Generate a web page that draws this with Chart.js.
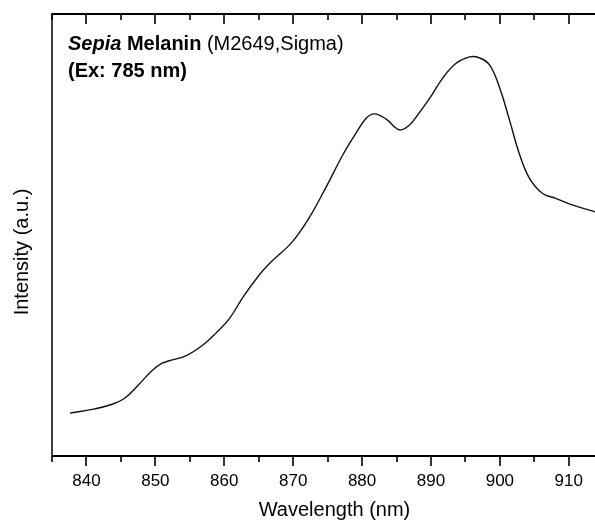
<!DOCTYPE html>
<html>
<head>
<meta charset="utf-8">
<script src="https://cdn.jsdelivr.net/npm/chart.js@4/dist/chart.umd.min.js"></script>
<style>
html,body{margin:0;padding:0;overflow:hidden;background:#fff;}
</style>
</head>
<body>
<canvas id="myChart" width="625" height="521"></canvas>
<script>
// spectrum
var wavelength=[837.6,841.0,843.5,845.5,847.5,849.5,851.0,852.6,854.5,856.9,858.8,860.8,862.7,865.1,866.6,869.9,872.4,874.8,877.2,879.1,880.6,881.8,883.5,885.0,885.7,886.9,888.0,889.8,891.7,893.6,895.6,897.0,898.5,899.9,901.4,902.8,904.3,906.2,908.1,910.5,913.7,916.0];
var intensity=[9.7,10.6,11.6,13.0,16.0,19.3,21.0,21.8,22.7,25.1,27.8,31.2,35.9,41.0,43.6,48.5,54.1,60.9,68.1,73.0,76.4,77.4,76.2,74.1,73.8,74.9,77.0,80.9,85.5,88.8,90.3,90.1,88.5,83.6,76.0,68.5,62.8,59.4,58.3,56.8,55.3,54.2];

var xTicks=[840,850,860,870,880,890,900,910];
var xMinorTicks=[835,845,855,865,875,885,895,905,915];

var font="'Liberation Sans', Arial, sans-serif";

var points=[];
for(var i=0;i<wavelength.length;i++){
  points.push({x:wavelength[i],y:intensity[i]});
}

// frame, tick marks, y title and the label in the corner
var framePlugin={
  id:"frame",
  afterDraw:function(chart){
    var ctx=chart.ctx;
    var a=chart.chartArea;
    var xs=chart.scales.x;
    ctx.save();
    ctx.strokeStyle="#000";
    ctx.lineWidth=2;
    ctx.beginPath();
    ctx.moveTo(a.left,a.top);ctx.lineTo(a.right,a.top);
    ctx.moveTo(a.left,a.bottom);ctx.lineTo(a.right,a.bottom);
    ctx.moveTo(a.right,a.top);ctx.lineTo(a.right,a.bottom);
    ctx.stroke();
    ctx.lineWidth=1.5;
    ctx.beginPath();
    ctx.moveTo(a.left,a.top-1);ctx.lineTo(a.left,a.bottom+1);
    ctx.stroke();

    ctx.lineWidth=1.6;
    ctx.beginPath();
    xTicks.forEach(function(v){
      var px=Math.round(xs.getPixelForValue(v));
      ctx.moveTo(px,a.bottom);ctx.lineTo(px,a.bottom+10);
      ctx.moveTo(px,a.top);ctx.lineTo(px,a.top+10);
    });
    xMinorTicks.forEach(function(v){
      var px=Math.round(xs.getPixelForValue(v));
      ctx.moveTo(px,a.bottom);ctx.lineTo(px,a.bottom+6);
      ctx.moveTo(px,a.top);ctx.lineTo(px,a.top+6);
    });
    ctx.stroke();

    ctx.fillStyle="#000";
    // y title sits a little below the middle in the original
    ctx.save();
    ctx.translate(22,252);
    ctx.rotate(-Math.PI/2);
    ctx.font="20px "+font;
    ctx.textAlign="center";
    ctx.textBaseline="middle";
    ctx.fillText("Intensity (a.u.)",0,0);
    ctx.restore();

    ctx.textBaseline="alphabetic";
    var x=68;
    ctx.font="italic bold 20px "+font;
    ctx.fillText("Sepia",x,50);
    x+=ctx.measureText("Sepia ").width;
    ctx.font="bold 20px "+font;
    ctx.fillText("Melanin",x,50);
    x+=ctx.measureText("Melanin").width;
    ctx.font="20px "+font;
    ctx.fillText(" (M2649,Sigma)",x,50);
    ctx.font="bold 20px "+font;
    ctx.fillText("(Ex: 785 nm)",68,77);
    ctx.restore();
  }
};

new Chart("myChart",{
  type:"line",
  data:{
    datasets:[{
      data:points,
      borderColor:"#111",
      borderWidth:1.4,
      pointRadius:0,
      tension:0.4,
      fill:false
    }]
  },
  plugins:[framePlugin],
  options:{
    responsive:false,
    animation:false,
    layout:{padding:{top:14,right:8,left:52,bottom:0}},
    plugins:{
      legend:{display:false},
      tooltip:{enabled:false}
    },
    scales:{
      x:{
        type:"linear",
        min:835,
        max:917,
        afterBuildTicks:function(scale){
          scale.ticks=xTicks.map(function(v){return {value:v};});
        },
        afterFit:function(scale){scale.height=65;},
        grid:{display:false,drawTicks:false},
        border:{display:false},
        ticks:{
          padding:15,
          color:"#000",
          font:{family:font,size:17},
          maxRotation:0,
          autoSkip:false
        },
        title:{
          display:true,
          text:"Wavelength (nm)",
          color:"#000",
          font:{family:font,size:20},
          padding:{top:0,bottom:-1}
        }
      },
      y:{
        min:0,
        max:100,
        afterFit:function(scale){scale.width=0;},
        grid:{display:false,drawTicks:false},
        border:{display:false},
        ticks:{display:false}
      }
    }
  }
});
</script>
</body>
</html>
